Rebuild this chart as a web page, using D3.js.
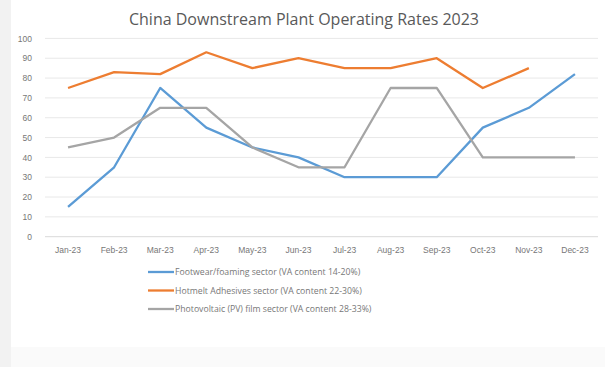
<!DOCTYPE html>
<html>
<head>
<meta charset="utf-8">
<script src="https://cdn.jsdelivr.net/npm/d3@7"></script>
<style>
  body { margin: 0; background: #fff; }
  svg { display: block; font-family: "Open Sans", "Liberation Sans", sans-serif; }
</style>
</head>
<body>
<div id="chart"></div>
<script>
// categories
var months = ['Jan-23', 'Feb-23', 'Mar-23', 'Apr-23', 'May-23', 'Jun-23',
  'Jul-23', 'Aug-23', 'Sep-23', 'Oct-23', 'Nov-23', 'Dec-23'];
// series values
var footwear = [15, 35, 75, 55, 45, 40, 30, 30, 30, 55, 65, 82];
var hotmelt = [75, 83, 82, 93, 85, 90, 85, 85, 90, 75, 85, null];
var photovoltaic = [45, 50, 65, 65, 45, 35, 35, 75, 75, 40, 40, 40];
var seriesNames = [
  'Footwear/foaming sector (VA content 14-20%)',
  'Hotmelt Adhesives sector (VA content 22-30%)',
  'Photovoltaic (PV) film sector (VA content 28-33%)'
];
var yTicks = [0, 10, 20, 30, 40, 50, 60, 70, 80, 90, 100];

var width = 605;
var height = 367;
var colors = ['#5b9bd5', '#ed7d31', '#a5a5a5'];
var series = [footwear, hotmelt, photovoltaic];

var svg = d3.select('#chart').append('svg')
  .attr('width', width)
  .attr('height', height);

// faint frame at left and bottom, like the screenshot
svg.append('rect').attr('x', 0).attr('y', 0).attr('width', 11).attr('height', height).attr('fill', '#f2f2f2');
svg.append('rect').attr('x', 11).attr('y', 347).attr('width', width - 11).attr('height', height - 347).attr('fill', '#fafafa');

var x = d3.scaleBand()
  .domain(months)
  .range([45, 598]);
var y = d3.scaleLinear()
  .domain([0, 100])
  .range([236.7, 38.4]);

// title
svg.append('text')
  .attr('x', 304)
  .attr('y', 25)
  .attr('text-anchor', 'middle')
  .style('font-size', '16px')
  .style('fill', '#595959')
  .text('China Downstream Plant Operating Rates 2023');

// gridlines
svg.append('g')
  .selectAll('line')
  .data(yTicks)
  .enter()
  .append('line')
  .attr('x1', 45)
  .attr('x2', 598)
  .attr('y1', function (d) { return y(d); })
  .attr('y2', function (d) { return y(d); })
  .style('stroke', function (d) { return d === 0 ? '#d9d9d9' : '#e8e8e8'; })
  .style('stroke-width', 1);

// y axis
var yAxis = svg.append('g')
  .attr('transform', 'translate(32,0)')
  .call(d3.axisLeft(y).tickValues(yTicks).tickSize(0).tickPadding(0));
yAxis.select('.domain').remove();
yAxis.selectAll('text')
  .style('font-size', '8.5px')
  .style('fill', '#777')
  .attr('font-family', null);

// x axis
var xAxis = svg.append('g')
  .attr('transform', 'translate(0,' + y(0) + ')')
  .call(d3.axisBottom(x).tickSize(0).tickPadding(10));
xAxis.select('.domain').remove();
xAxis.selectAll('text')
  .style('font-size', '8.5px')
  .style('fill', '#777')
  .attr('font-family', null);

// lines
var line = d3.line()
  .defined(function (d) { return d != null; })
  .x(function (d, i) { return x(months[i]) + x.bandwidth() / 2; })
  .y(function (d) { return y(d); });

svg.append('g')
  .selectAll('path')
  .data(series)
  .enter()
  .append('path')
  .attr('d', line)
  .style('fill', 'none')
  .style('stroke', function (d, i) { return colors[i]; })
  .style('stroke-width', 2.3)
  .style('stroke-linejoin', 'round');

// legend
var legend = svg.append('g')
  .selectAll('g')
  .data(seriesNames)
  .enter()
  .append('g')
  .attr('transform', function (d, i) { return 'translate(148,' + (272 + i * 18.5) + ')'; });
legend.append('line')
  .attr('x1', 0)
  .attr('x2', 26)
  .style('stroke', function (d, i) { return colors[i]; })
  .style('stroke-width', 2.3);
legend.append('text')
  .attr('x', 27)
  .attr('dy', '0.35em')
  .style('font-size', '8.7px')
  .style('fill', '#777')
  .text(function (d) { return d; });
</script>
</body>
</html>
